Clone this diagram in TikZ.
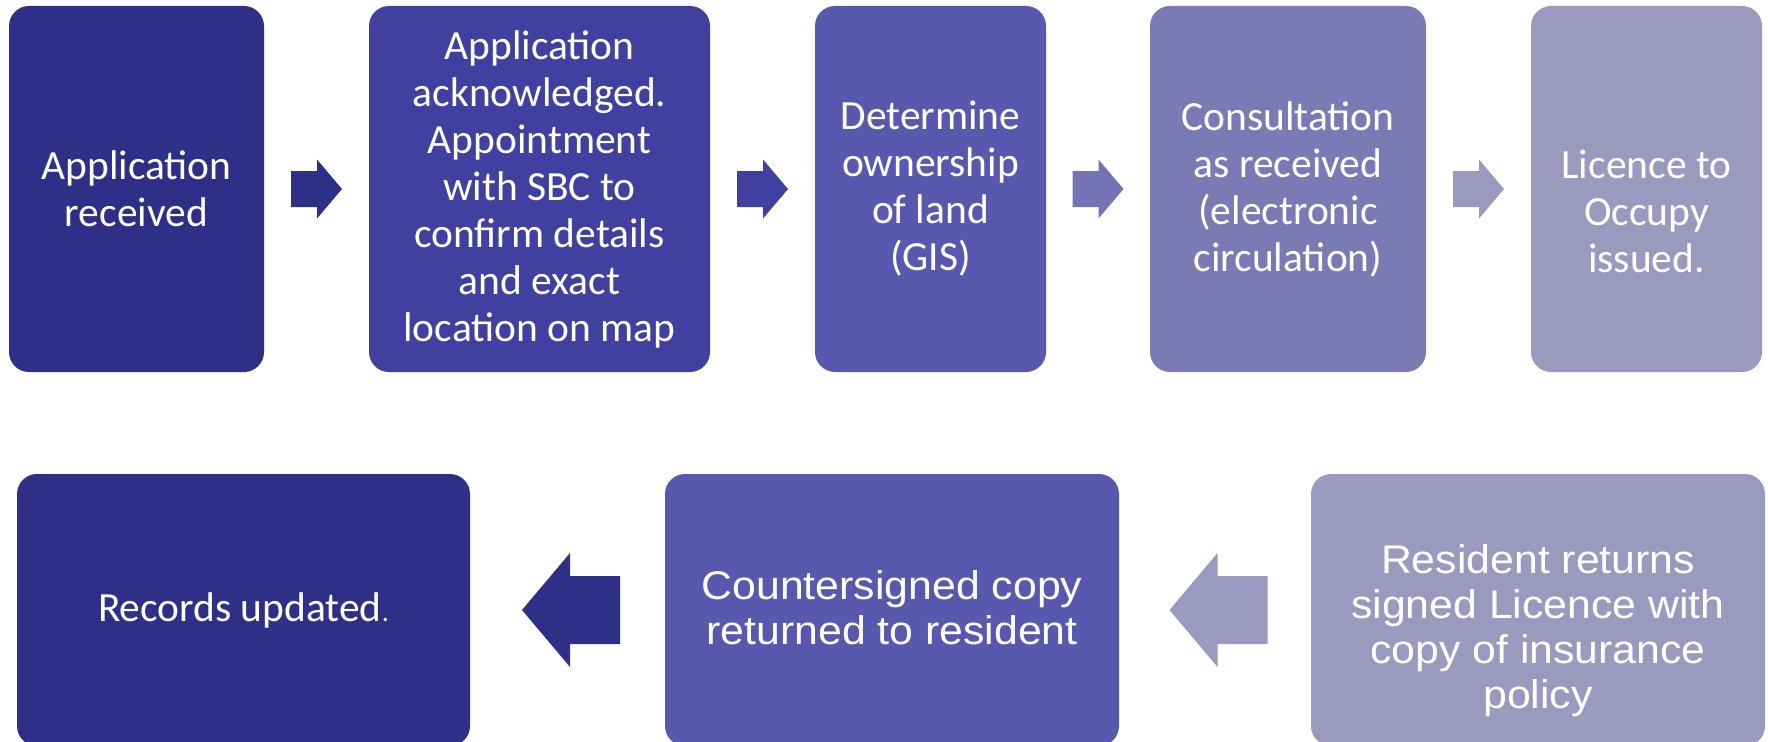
\documentclass[tikz,border=0pt]{standalone}
\usepackage{fontspec}
\setmainfont{Carlito}
\newfontfamily\arialf[FakeStretch=1.07]{Liberation Sans}
\usetikzlibrary{calc}
\definecolor{c1}{HTML}{2E3087}
\definecolor{c2}{HTML}{4040A0}
\definecolor{c3}{HTML}{5858AF}
\definecolor{c4}{HTML}{7A7AB5}
\definecolor{c5}{HTML}{9A9ABE}
\definecolor{ca3}{HTML}{7474B4}
\tikzset{
  box/.style={rounded corners=20pt, inner sep=0pt, draw=none},
  txt/.style={text=white, align=center, inner sep=0pt, font=\fontsize{41.5}{47}\selectfont},
  atxt/.style={text=white, align=center, inner sep=0pt, font=\arialf\fontsize{40}{45}\selectfont},
  pics/rarr/.style={code={\fill[#1] (-25.5,-18) -- (0.5,-18) -- (0.5,-29.5) -- (25.5,0) -- (0.5,29.5) -- (0.5,18) -- (-25.5,18) -- cycle;}},
  pics/larr/.style={code={\fill[#1] (52.5,-34) -- (2.5,-34) -- (2.5,-57) -- (-45.5,0) -- (2.5,57) -- (2.5,34) -- (52.5,34) -- cycle;}}
}
\begin{document}
\begin{tikzpicture}[x=1pt,y=-1pt]
\useasboundingbox (0,0) rectangle (1768,741);
\clip (0,0) rectangle (1768,741);
% top row
\node[box, fill=c1, minimum width=255pt, minimum height=366pt] (b1) at (136.5,189) {};
\node[box, fill=c2, minimum width=341pt, minimum height=366pt] (b2) at (539.5,189) {};
\node[box, fill=c3, minimum width=231pt, minimum height=366pt] (b3) at (930.5,189) {};
\node[box, fill=c4, minimum width=276pt, minimum height=366pt] (b4) at (1288,189) {};
\node[box, fill=c5, minimum width=231pt, minimum height=366pt] (b5) at (1646.5,189) {};
% bottom row
\node[box, fill=c1, minimum width=453pt, minimum height=272pt] (b6) at (243.5,610) {};
\node[box, fill=c3, minimum width=454pt, minimum height=272pt] (b7) at (892,610) {};
\node[box, fill=c5, minimum width=454pt, minimum height=272pt] (b8) at (1538,610) {};
% texts
\node[txt] (t1) at (b1.center) {Application\\received};
\node[txt] (t2) at (b2.center) {Application\\acknowledged.\\Appointment\\with SBC to\\confirm details\\and exact\\location on map};
\node[txt] (t3) at (b3.center) {Determine\\ownership\\of land\\(GIS)};
\node[txt] (t4) at (b4.center) {Consultation\\as received\\(electronic\\circulation)};
\node[txt] (t5) at ([yshift=-22pt]b5.center) {Licence to\\Occupy\\issued.};
\node[txt] (t6) at (b6.center) {Records updated{\fontsize{28}{30}\selectfont.}};
\node[atxt] (t7) at ([yshift=2pt]b7.center) {Countersigned copy\\returned to resident};
\node[atxt] (t8) at ([yshift=-21pt]b8.center) {Resident returns\\signed Licence with\\copy of insurance\\policy};
% block arrows
\pic at ($(b1.east)!0.5!(b2.west)$) {rarr=c1};
\pic at ($(b2.east)!0.5!(b3.west)$) {rarr=c2};
\pic at ($(b3.east)!0.5!(b4.west)$) {rarr=ca3};
\pic at ($(b4.east)!0.5!(b5.west)$) {rarr=c5};
\pic at ($(b6.east)!0.5!(b7.west)$) {larr=c1};
\pic at ($(b7.east)!0.5!(b8.west)$) {larr=c5};
\end{tikzpicture}
\end{document}
